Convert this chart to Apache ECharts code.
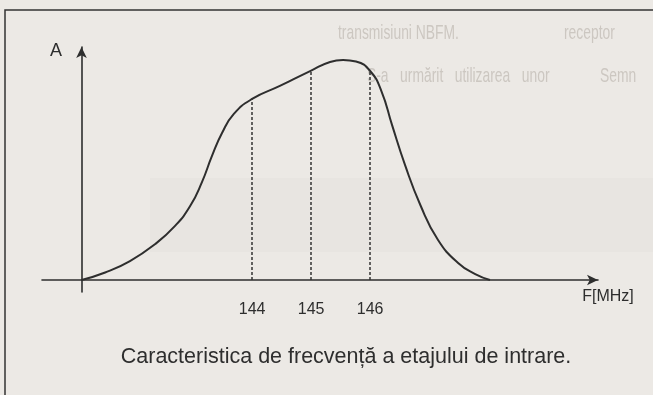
<!DOCTYPE html>
<html>
<head>
<meta charset="utf-8">
<script src="https://cdn.jsdelivr.net/npm/echarts@6/dist/echarts.min.js"></script>
<style>
  html, body { margin: 0; padding: 0; background: #ece9e5; }
  #chart { width: 653px; height: 395px; }
</style>
</head>
<body>
<div id="chart"></div>
<script>
// Input-stage frequency response: frequency (MHz) against relative amplitude A
const freqMHz = [141.11, 141.51, 141.93, 142.36, 142.69, 142.95, 143.15, 143.32,
                 143.49, 143.69, 144.00, 144.47, 145.00, 145.32, 145.54, 145.76,
                 146.00, 146.19, 146.37, 146.59, 146.85, 147.15, 147.49, 147.78, 148.03];
const amplitude = [0.000, 0.034, 0.086, 0.164, 0.245, 0.336, 0.445, 0.564,
                   0.668, 0.755, 0.823, 0.882, 0.952, 0.991, 1.000, 0.993,
                   0.950, 0.859, 0.705, 0.523, 0.341, 0.182, 0.077, 0.027, 0.000];

// Frequencies marked with dashed drop lines, and the tick labels under them
const markerFreqs = [144, 145, 146];
const tickLabels = ['144', '145', '146'];

const xName = 'F[MHz]';
const yName = 'A';
const caption = 'Caracteristica de frecvență a etajului de intrare.';

// Faint text from the surrounding page
const pageText = [
  { text: 'transmisiuni NBFM.', x: 338, y: 33 },
  { text: 'receptor', x: 564, y: 33 },
  { text: 'S-a   urmărit   utilizarea   unor', x: 367, y: 76 },
  { text: 'Semn', x: 600, y: 76 }
];

function ampAt(f) {
  return amplitude[freqMHz.indexOf(f)];
}

const chart = echarts.init(document.getElementById('chart'), null, { renderer: 'canvas' });

const ink = '#2e2e2e';
const font = 'Liberation Sans, Arial, sans-serif';

chart.setOption({
  animation: false,
  backgroundColor: '#ece9e5',
  textStyle: { fontFamily: font },
  grid: { left: 42, right: 55, top: 47, bottom: 103 },
  xAxis: {
    type: 'value',
    min: 140.44,
    max: 149.86,
    axisLine: {
      onZero: true,
      symbol: ['none', 'arrow'],
      symbolSize: [8, 11],
      lineStyle: { color: ink, width: 1.6 }
    },
    axisTick: { show: false },
    splitLine: { show: false },
    axisLabel: {
      customValues: markerFreqs,
      formatter: v => tickLabels[markerFreqs.indexOf(v)] || '',
      fontSize: 16,
      color: '#2e2e2e',
      margin: 10,
      fontFamily: font
    }
  },
  yAxis: {
    type: 'value',
    min: -0.0545,
    max: 1.059,
    offset: -39.5,
    axisLine: {
      show: true,
      symbol: ['none', 'arrow'],
      symbolSize: [8, 11],
      lineStyle: { color: ink, width: 1.6 }
    },
    axisTick: { show: false },
    axisLabel: { show: false },
    splitLine: { show: false }
  },
  series: [{
    type: 'line',
    data: freqMHz.map((f, i) => [f, amplitude[i]]),
    smooth: 0.5,
    showSymbol: false,
    lineStyle: { color: ink, width: 2 },
    markLine: {
      silent: true,
      symbol: 'none',
      label: { show: false },
      lineStyle: { type: [3, 2], color: '#333', width: 1.5 },
      data: markerFreqs.map(f => [{ coord: [f, 0] }, { coord: [f, ampAt(f)] }])
    }
  }],
  graphic: [
    // slightly darker band of the paper
    {
      type: 'rect', silent: true, z: -3,
      shape: { x: 150, y: 178, width: 510, height: 74 },
      style: { fill: 'rgba(90,80,70,0.022)' }
    },
    // frame around the figure
    {
      type: 'rect', silent: true, z: -1,
      shape: { x: 5, y: 10, width: 700, height: 450 },
      style: { fill: 'none', stroke: '#333', lineWidth: 1.5 }
    },
    ...pageText.map(t => ({
      type: 'text', silent: true, z: -2,
      x: t.x, y: t.y, scaleX: 0.66,
      style: { text: t.text, fontSize: 21, fontFamily: font, fill: '#ccc7c1', verticalAlign: 'middle' }
    })),
    {
      type: 'text', silent: true,
      x: 56, y: 51,
      style: { text: yName, fontSize: 18, fontFamily: font, fill: '#2e2e2e', align: 'center', verticalAlign: 'middle' }
    },
    {
      type: 'text', silent: true,
      x: 608, y: 297,
      style: { text: xName, fontSize: 16, fontFamily: font, fill: '#2e2e2e', align: 'center', verticalAlign: 'middle' }
    },
    {
      type: 'text', silent: true,
      x: 346, y: 357,
      style: { text: caption, fontSize: 21.5, fontFamily: font, fill: '#2e2e2e', align: 'center', verticalAlign: 'middle' }
    }
  ]
});
</script>
</body>
</html>
